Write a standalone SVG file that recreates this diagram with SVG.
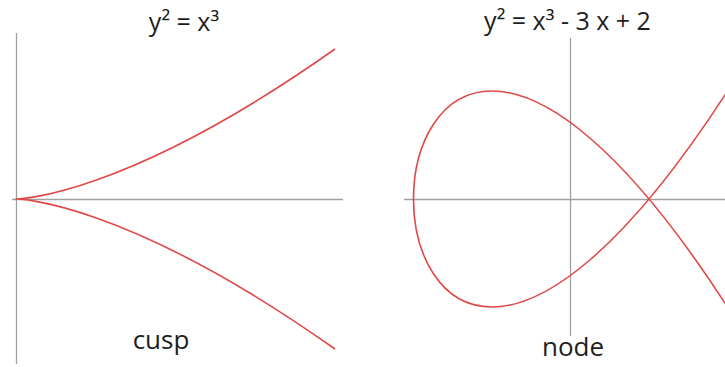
<svg xmlns="http://www.w3.org/2000/svg" width="725" height="367" viewBox="0 0 725 367">
<style>
.axis{stroke:#a0a0a0;stroke-width:1.3;fill:none}
.curve{stroke:#e04848;stroke-width:1.6;fill:none}
.t{font-family:"Open Sans","Liberation Sans",sans-serif;fill:#1e1e1e;text-anchor:middle}
.title{font-size:25px}
.lab{font-size:26px}
</style>
<rect width="725" height="367" fill="#fff"/>
<g id="cusp-plot">
<line class="axis" x1="16.5" y1="33" x2="16.5" y2="364"/>
<line class="axis" x1="12" y1="199.5" x2="343" y2="199.5"/>
<path class="curve" d="M335,349 C-90.33,49 -90.33,349 335,49"/>
<text class="t title" x="184" y="31">y² = x³</text>
<text class="t lab" x="161" y="349">cusp</text>
</g>
<g id="node-plot">
<line class="axis" x1="404" y1="199.5" x2="725" y2="199.5"/>
<line class="axis" x1="570.5" y1="38" x2="570.5" y2="336"/>
<path class="curve" d="M727.5,307 C308.83,-341 308.83,739 727.5,91"/>
<text class="t title" x="567.5" y="30">y² = x³ - 3 x + 2</text>
<text class="t lab" x="573" y="356">node</text>
</g>
</svg>
